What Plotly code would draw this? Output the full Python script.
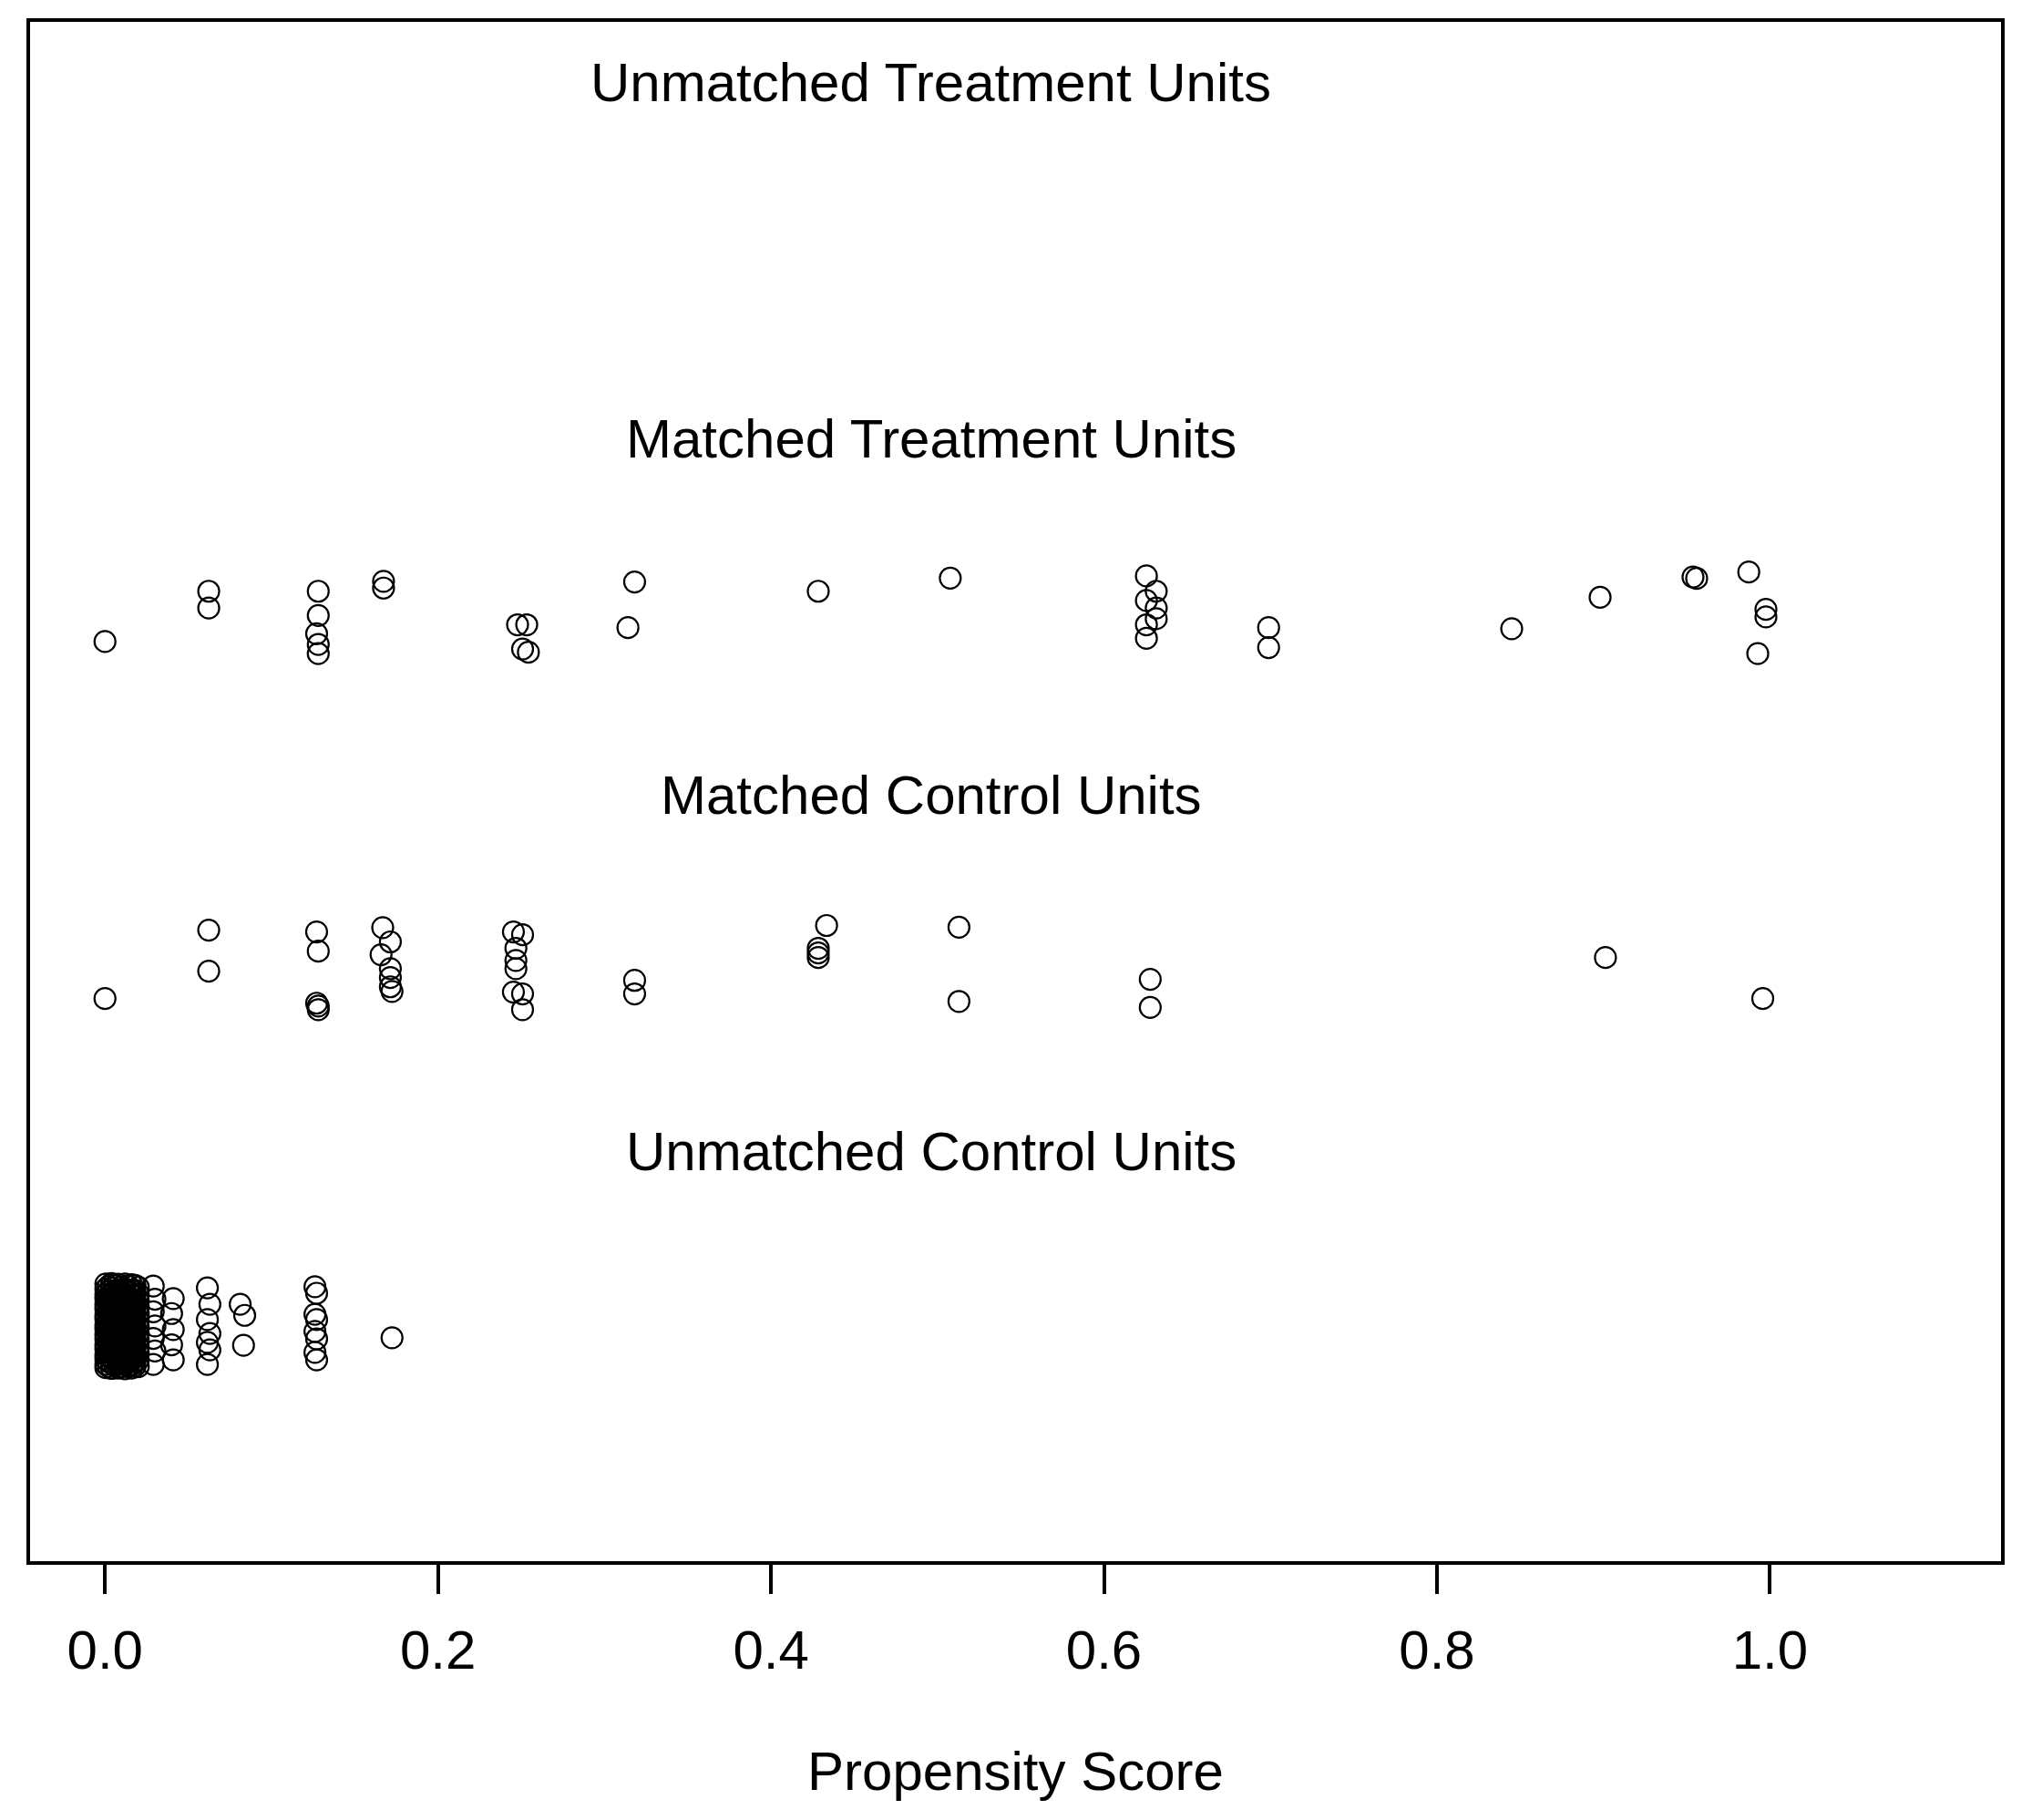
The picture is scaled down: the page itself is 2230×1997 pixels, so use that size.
import plotly.graph_objects as go

# ---------------------------------------------------------------
# Data (propensity score, jittered row)
# ---------------------------------------------------------------
group_labels = ["Unmatched Treatment Units", "Matched Treatment Units",
                "Matched Control Units", "Unmatched Control Units"]
label_y = [4, 3, 2, 1]
label_x = 0.496

tick_vals = [0.0, 0.2, 0.4, 0.6, 0.8, 1.0]
tick_text = ["0.0", "0.2", "0.4", "0.6", "0.8", "1.0"]

# matched treatment units
mt_x = [0.000, 0.0623, 0.0623, 0.1281, 0.1281, 0.1271, 0.1281, 0.1281, 0.1673, 0.1673,
        0.3181, 0.3141, 0.2478, 0.2533, 0.2508, 0.2543, 0.4284, 0.5077, 0.6255, 0.6314,
        0.6255, 0.6314, 0.6314, 0.6255, 0.6255, 0.6989, 0.6989, 0.8449, 0.8980, 0.9538,
        0.9560, 0.9873, 0.9976, 0.9976, 0.9927]
mt_y = [2.421, 2.562, 2.515, 2.562, 2.494, 2.443, 2.413, 2.387, 2.590, 2.571,
        2.588, 2.460, 2.468, 2.468, 2.400, 2.391, 2.562, 2.599, 2.605, 2.562,
        2.536, 2.515, 2.485, 2.468, 2.430, 2.460, 2.404, 2.457, 2.545, 2.602,
        2.598, 2.616, 2.511, 2.490, 2.387]

# matched control units
mc_x = [0.000, 0.0623, 0.0623, 0.1271, 0.1281, 0.1271, 0.1281, 0.1281, 0.1668, 0.1714,
        0.1658, 0.1714, 0.1714, 0.1714, 0.1724, 0.2453, 0.2508, 0.2468, 0.2468, 0.2468,
        0.2453, 0.2508, 0.2508, 0.3181, 0.3181, 0.4334, 0.4284, 0.4284, 0.4284, 0.5129,
        0.5129, 0.6278, 0.6278, 0.9012, 0.9957]
mc_y = [1.419, 1.611, 1.496, 1.606, 1.552, 1.406, 1.398, 1.388, 1.618, 1.578,
        1.542, 1.503, 1.478, 1.452, 1.439, 1.606, 1.598, 1.560, 1.526, 1.503,
        1.437, 1.432, 1.388, 1.470, 1.432, 1.624, 1.560, 1.547, 1.534, 1.619,
        1.411, 1.473, 1.394, 1.534, 1.419]

# unmatched control units: the solid pile right at zero, column by column
pile_x = [0.0005, 0.002, 0.004, 0.006, 0.008, 0.010, 0.012, 0.014, 0.016, 0.018, 0.020]
pile_y = [
    [0.618, 0.604, 0.588, 0.576, 0.560, 0.548, 0.531, 0.520, 0.503, 0.492, 0.476, 0.464, 0.447, 0.436, 0.419, 0.408, 0.393, 0.383],
    [0.611, 0.597, 0.583, 0.569, 0.554, 0.541, 0.526, 0.512, 0.498, 0.484, 0.471, 0.456, 0.442, 0.428, 0.414, 0.400, 0.387],
    [0.619, 0.606, 0.591, 0.578, 0.563, 0.550, 0.535, 0.521, 0.507, 0.493, 0.479, 0.465, 0.451, 0.437, 0.423, 0.409, 0.395, 0.381],
    [0.613, 0.599, 0.585, 0.571, 0.557, 0.543, 0.529, 0.515, 0.501, 0.487, 0.473, 0.459, 0.445, 0.431, 0.417, 0.403, 0.389],
    [0.617, 0.602, 0.590, 0.574, 0.562, 0.546, 0.534, 0.518, 0.506, 0.490, 0.478, 0.462, 0.450, 0.434, 0.422, 0.406, 0.394, 0.382],
    [0.610, 0.596, 0.582, 0.567, 0.553, 0.539, 0.525, 0.511, 0.496, 0.482, 0.468, 0.454, 0.440, 0.426, 0.412, 0.398, 0.386],
    [0.618, 0.603, 0.589, 0.575, 0.560, 0.547, 0.532, 0.518, 0.504, 0.490, 0.476, 0.461, 0.447, 0.433, 0.419, 0.405, 0.391, 0.380],
    [0.612, 0.598, 0.584, 0.570, 0.556, 0.542, 0.528, 0.514, 0.500, 0.486, 0.472, 0.458, 0.444, 0.430, 0.416, 0.402, 0.388],
    [0.616, 0.601, 0.587, 0.573, 0.559, 0.545, 0.531, 0.516, 0.502, 0.488, 0.474, 0.460, 0.446, 0.432, 0.418, 0.404, 0.390, 0.382],
    [0.614, 0.600, 0.585, 0.571, 0.556, 0.543, 0.528, 0.514, 0.499, 0.485, 0.471, 0.457, 0.442, 0.429, 0.414, 0.401, 0.387],
    [0.609, 0.590, 0.572, 0.553, 0.535, 0.516, 0.498, 0.479, 0.461, 0.442, 0.424, 0.405, 0.386],
]

# unmatched control units further right
uc_x = [0.029, 0.030, 0.029, 0.030, 0.029, 0.030, 0.029,
        0.041, 0.040, 0.041, 0.040, 0.041,
        0.0615, 0.0630, 0.0615, 0.0630, 0.0615, 0.0630, 0.0615,
        0.0812, 0.0839, 0.0832,
        0.1261, 0.1271, 0.1261, 0.1271, 0.1261, 0.1271, 0.1261, 0.1271,
        0.1724]
uc_y = [0.612, 0.575, 0.540, 0.500, 0.465, 0.430, 0.392,
        0.577, 0.535, 0.490, 0.447, 0.405,
        0.607, 0.561, 0.518, 0.479, 0.454, 0.433, 0.392,
        0.561, 0.530, 0.446,
        0.610, 0.592, 0.533, 0.518, 0.485, 0.464, 0.426, 0.405,
        0.467]

FONT = "Arial, Liberation Sans, sans-serif"

# flatten the pile into plain point lists
all_uc_x = []
all_uc_y = []
for px, ys in zip(pile_x, pile_y):
    all_uc_x += [px] * len(ys)
    all_uc_y += ys
all_uc_x += uc_x
all_uc_y += uc_y

fig = go.Figure()

marker_style = dict(symbol="circle-open", size=23, color="black",
                    line=dict(width=2.2, color="black"))

for name, xs, ys in [("Matched Treatment Units", mt_x, mt_y),
                     ("Matched Control Units", mc_x, mc_y),
                     ("Unmatched Control Units", all_uc_x, all_uc_y)]:
    fig.add_trace(go.Scatter(x=xs, y=ys, mode="markers", name=name,
                             marker=marker_style, showlegend=False))

# group labels in the plot region
for txt, yy in zip(group_labels, label_y):
    fig.add_annotation(x=label_x, y=yy, text=txt, showarrow=False,
                       xanchor="center", yanchor="middle", yshift=-4,
                       font=dict(family=FONT, size=60, color="black"))

fig.update_xaxes(range=[-0.045, 1.1388], showgrid=False, zeroline=False,
                 showline=True, linecolor="black", linewidth=4, mirror=True,
                 ticks="outside", ticklen=32, tickwidth=3.5, tickcolor="black",
                 tickvals=tick_vals, ticktext=tick_text, ticklabelstandoff=10,
                 tickfont=dict(family=FONT, size=60, color="black"),
                 title=dict(text="Propensity Score", standoff=80,
                            font=dict(family=FONT, size=60, color="black")))
fig.update_yaxes(range=[-0.16, 4.16], showgrid=False, zeroline=False,
                 showline=True, linecolor="black", linewidth=4, mirror=True,
                 showticklabels=False, ticks="")

# page body keeps an 8px margin, so the figure is shrunk by that much
fig.update_layout(width=2222, height=1989,
                  margin=dict(l=25, r=34, t=16, b=284),
                  plot_bgcolor="white", paper_bgcolor="white")

fig.write_html("out.html")
